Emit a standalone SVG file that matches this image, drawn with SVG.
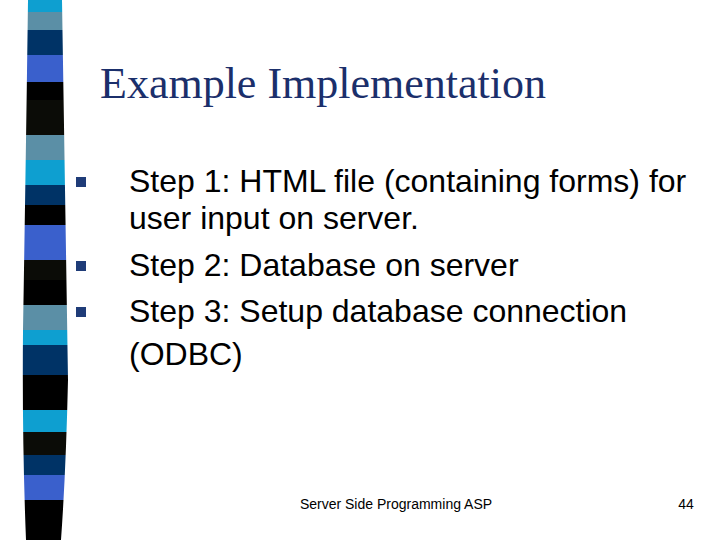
<svg xmlns="http://www.w3.org/2000/svg" width="720" height="540" viewBox="0 0 720 540">
<style>
.t{font-family:"Liberation Sans",Arial,sans-serif;font-size:32px;fill:#000}
.b{fill:#1f3c78}
.f{font-family:"Liberation Sans",Arial,sans-serif;font-size:14px;fill:#000}
</style>
<defs><clipPath id="s"><path d="M28 0 L62 0 Q66 250 68 380 Q66 470 61 540 L26 540 Q22 440 23 330 Q26 150 28 0 Z"/></clipPath></defs>
<rect width="720" height="540" fill="#fff"/>
<g id="strip" clip-path="url(#s)">
<rect x="0" y="0" width="80" height="12" fill="#0e9fd0"/>
<rect x="0" y="12" width="80" height="18" fill="#5b8fa6"/>
<rect x="0" y="30" width="80" height="25" fill="#003366"/>
<rect x="0" y="55" width="80" height="27" fill="#3a60cc"/>
<rect x="0" y="82" width="80" height="18" fill="#000"/>
<rect x="0" y="100" width="80" height="35" fill="#0b0c07"/>
<rect x="0" y="135" width="80" height="25" fill="#5b8fa6"/>
<rect x="0" y="160" width="80" height="25" fill="#0e9fd0"/>
<rect x="0" y="185" width="80" height="20" fill="#003366"/>
<rect x="0" y="205" width="80" height="20" fill="#000"/>
<rect x="0" y="225" width="80" height="35" fill="#3a60cc"/>
<rect x="0" y="260" width="80" height="20" fill="#0b0c07"/>
<rect x="0" y="280" width="80" height="25" fill="#000"/>
<rect x="0" y="305" width="80" height="25" fill="#5b8fa6"/>
<rect x="0" y="330" width="80" height="15" fill="#0e9fd0"/>
<rect x="0" y="345" width="80" height="30" fill="#003366"/>
<rect x="0" y="375" width="80" height="35" fill="#000"/>
<rect x="0" y="410" width="80" height="22" fill="#0e9fd0"/>
<rect x="0" y="432" width="80" height="23" fill="#0b0c07"/>
<rect x="0" y="455" width="80" height="20" fill="#003366"/>
<rect x="0" y="475" width="80" height="25" fill="#3a60cc"/>
<rect x="0" y="500" width="80" height="40" fill="#000"/>
</g>
<text id="title" x="100" y="98" font-family="Liberation Serif,'Times New Roman',serif" font-size="44" fill="#1b2f6b">Example Implementation</text>
<g id="bullets">
<rect class="b" x="76" y="177" width="10" height="10"/>
<rect class="b" x="76" y="261" width="10" height="10"/>
<rect class="b" x="76" y="307" width="10" height="10"/>
<text class="t" x="129" y="192">Step 1: HTML file (containing forms) for</text>
<text class="t" x="129" y="229">user input on server.</text>
<text class="t" x="129" y="276">Step 2: Database on server</text>
<text class="t" x="129" y="322">Step 3: Setup database connection</text>
<text class="t" x="129" y="365">(ODBC)</text>
</g>
<text class="f" x="396" y="509" text-anchor="middle">Server Side Programming ASP</text>
<text class="f" x="686" y="509" text-anchor="middle">44</text>
</svg>
